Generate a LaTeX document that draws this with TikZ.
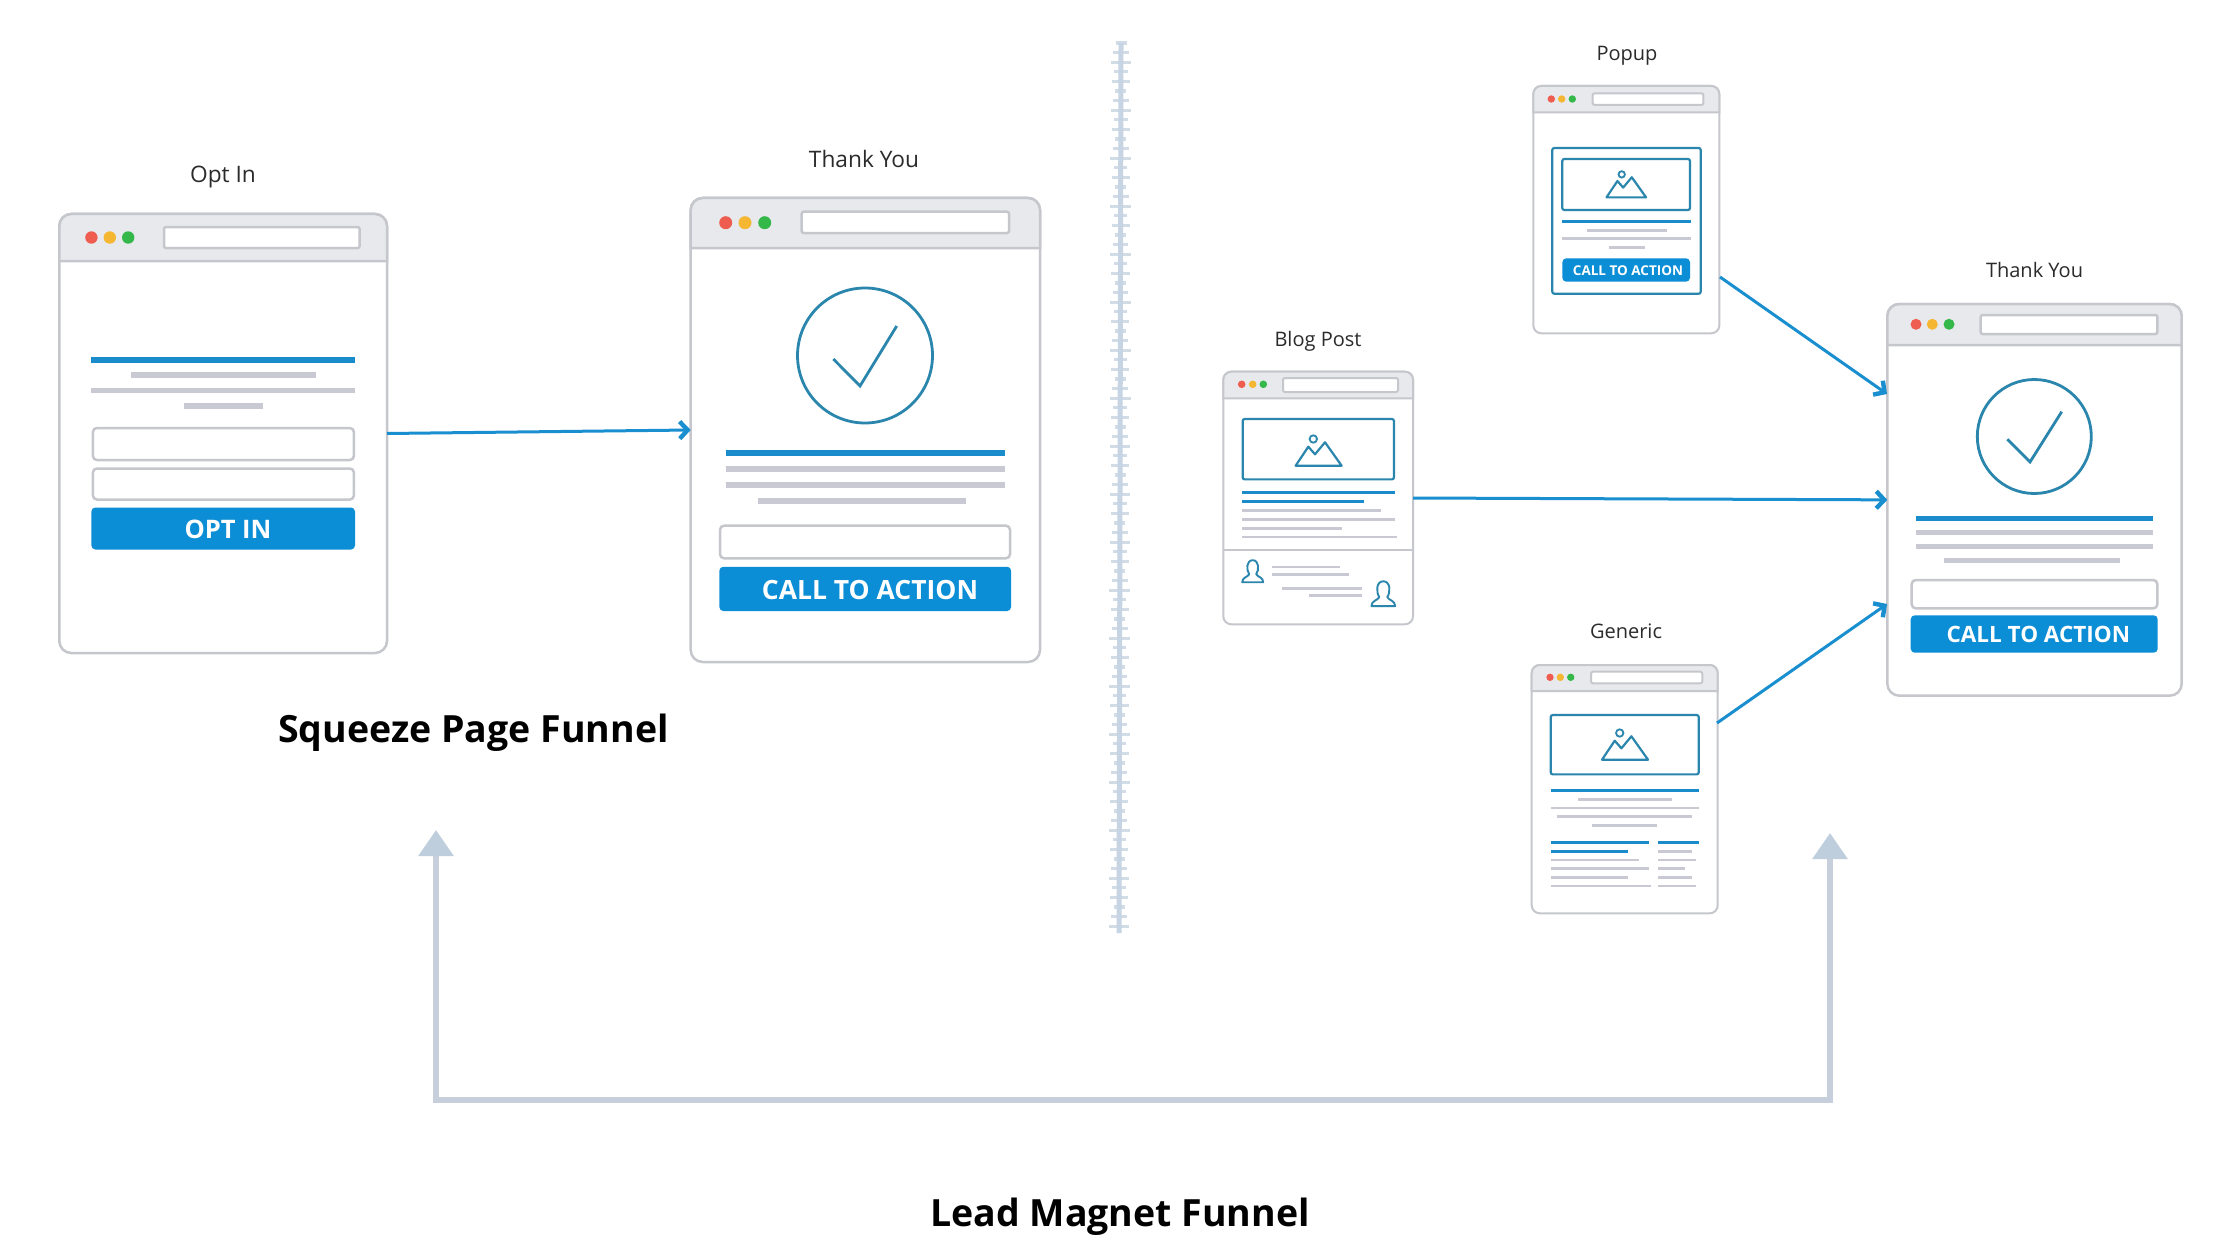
\documentclass[tikz,border=0pt]{standalone}
\usepackage{fontspec}
\setmainfont{Open Sans}
\usetikzlibrary{arrows.meta}
\definecolor{btn}{HTML}{0B8ED6}
\definecolor{bline}{HTML}{1A8CCB}
\definecolor{teal}{HTML}{2A86AD}
\definecolor{grayl}{HTML}{C9C9D3}
\definecolor{hdr}{HTML}{E7E9ED}
\definecolor{edge}{HTML}{C5C7CD}
\definecolor{dred}{HTML}{EE5D50}
\definecolor{dyel}{HTML}{F5B731}
\definecolor{dgrn}{HTML}{35B84A}
\definecolor{arrowb}{HTML}{1A8FD0}
\definecolor{shaft}{HTML}{C8CFDC}
\definecolor{headc}{HTML}{BFCEDD}
\definecolor{divc}{HTML}{C6D4E3}
\definecolor{divt}{HTML}{D2DCE7}
\definecolor{labelc}{HTML}{2B2B2B}
\def\wr{12}\def\wl{2.5}
\tikzset{
  winbox/.style={draw=edge,fill=white,line width=\wl pt,rounded corners=\wr pt,inner sep=0pt,outer sep=0pt},
  winhead/.style={draw=edge,fill=hdr,line width=\wl pt},
  urlb/.style={draw=edge,fill=white,line width=\wl pt,rounded corners=2pt},
  inputb/.style={draw=edge,fill=white,line width=2.5pt,rounded corners=4pt},
  btnb/.style={fill=btn,rounded corners=4pt},
  tealb/.style={draw=teal,line width=2.2pt,rounded corners=2pt},
  tealc/.style={draw=teal,line width=2.8pt},
  blueln/.style={draw=bline},
  grayln/.style={draw=grayl},
  flow/.style={draw=arrowb,line width=3pt,-{Straight Barb[length=8pt,width=17pt,line width=4.4pt]}},
  big/.style={draw=shaft,line width=6pt,{Triangle[length=26pt,width=34pt,fill=headc,color=headc]}-{Triangle[length=26pt,width=34pt,fill=headc,color=headc]}},
  lab/.style={text=labelc,font=\fontsize{22.7}{26}\selectfont,inner sep=0pt},
  head/.style={text=black,font=\fontsize{37.5}{44}\selectfont\bfseries,inner sep=0pt},
  btnt/.style={text=white,inner sep=0pt,font=\bfseries},
}
\newcommand{\winframe}[6]{%
  \node[winbox,minimum width={(#4-#2)*1pt},minimum height={(#5-#3)*1pt}] (#1) at ({(#2+#4)/2},{(#3+#5)/2}) {};
  \filldraw[winhead] (#2,#6) [rounded corners=\wr pt] -- (#2,#3) -- (#4,#3) [sharp corners] -- (#4,#6) -- cycle;
}
\newcommand{\tlights}[5]{%
  \fill[dred] (#1,#4) circle (#5);
  \fill[dyel] (#2,#4) circle (#5);
  \fill[dgrn] (#3,#4) circle (#5);
}
\newcommand{\rl}[5]{\draw[#1,line width=#5pt] (#2,#3) -- (#4,#3);}
\newcommand{\mountain}[3]{%
  \begin{scope}[shift={(#1,#2)},scale=#3]
    \draw[draw=teal,line width=2.2pt,line join=round] (-22.7,16.7) -- (-10,-2.3) -- (-3.3,5.3) -- (6.7,-6.7) -- (23.3,16.7) -- cycle;
    \draw[draw=teal,line width=1.8pt] (-5,-10) circle (3.7);
  \end{scope}
}
\newcommand{\avatar}[3]{%
  \begin{scope}[shift={(#1,#2)},scale=#3]
    \draw[draw=teal,line width=1.9pt,line join=round] (-10.5,11) .. controls (-10.5,6) and (-5,6) .. (-3.5,3) .. controls (-6.5,-1) and (-6.5,-11) .. (0,-11) .. controls (6.5,-11) and (6.5,-1) .. (3.5,3) .. controls (5,6) and (10.5,6) .. (10.5,11) -- cycle;
  \end{scope}
}
\begin{document}
\begin{tikzpicture}[x=1pt,y=-1pt]
\useasboundingbox (0,0) rectangle (2240,1260);
\fill[white] (0,0) rectangle (2240,1260);

% divider
\foreach \i in {0,...,92}{
  \pgfmathsetmacro{\yy}{43+\i*9.6}
  \pgfmathsetmacro{\xx}{1121-2*\i/92}
  \pgfmathsetmacro{\hw}{5.5+mod(\i*7,5)*1.2}
  \draw[divt,line width=3.2pt] ({\xx-\hw},\yy) -- ({\xx+\hw},\yy);
}
\draw[divc,line width=5pt] (1121,43) -- (1119,933);

% Opt In
\winframe{optin}{59.3}{214}{387}{653}{261}
\tlights{91.4}{109.8}{128.2}{237.5}{6.2}
\draw[urlb] (164,227) rectangle (359.6,248);
\rl{blueln}{91.4}{359.7}{355}{6}
\rl{grayln}{131.4}{375}{315.5}{5.5}
\rl{grayln}{91.4}{390.7}{355}{5.5}
\rl{grayln}{183.7}{406}{263}{5.5}
\node[inputb,minimum width=261pt,minimum height=32pt,inner sep=0pt] (optinf1) at (223.4,444) {};
\node[inputb,minimum width=261pt,minimum height=31pt,inner sep=0pt] (optinf2) at (223.4,484) {};
\node[btnb,minimum width=263.6pt,minimum height=42pt,inner sep=0pt] (optinb) at (223.2,528.5) {};
\node[btnt,font=\fontsize{25.5}{30}\selectfont\bfseries] (optint) at (228,529) {OPT IN};
\node[lab] (optinl) at (223,177) {Opt In};

% Thank You 1
\winframe{tya}{690.7}{198}{1040}{662}{248}
\tlights{725.7}{745}{764.7}{222.7}{6.5}
\draw[urlb] (801.7,211.7) rectangle (1009,233);
\node[tealc,circle,minimum size=135pt,inner sep=0pt] (tyac) at (865,355.5) {};
\draw[tealc,line join=miter] (833.3,359) -- (860,386) -- (896.7,326);
\rl{blueln}{725.7}{453}{1005}{6.5}
\rl{grayln}{725.7}{469}{1005}{6}
\rl{grayln}{725.7}{485}{1005}{6}
\rl{grayln}{758}{501}{965.7}{5.5}
\node[inputb,minimum width=290pt,minimum height=32.6pt,inner sep=0pt] (tyaf) at (865,542) {};
\node[btnb,minimum width=291.7pt,minimum height=44.3pt,inner sep=0pt] (tyab) at (865.2,588.9) {};
\node[btnt,font=\fontsize{26.5}{30}\selectfont\bfseries] (tyat) at (870,590) {CALL TO ACTION};
\node[lab] (tyal) at (864,158.6) {Thank You};

% Blog Post
\def\wr{8}\def\wl{2}
\winframe{blog}{1223.3}{371.7}{1413}{624.3}{398.3}
\tlights{1241.7}{1252.7}{1263.3}{384.3}{3.8}
\draw[urlb] (1283,378) rectangle (1398,392);
\node[tealb,minimum width=151.3pt,minimum height=60.3pt,inner sep=0pt] (blogi) at (1318.3,449.2) {};
\mountain{1318.3}{449}{1}
\rl{blueln}{1242.3}{492.7}{1395}{3}
\rl{blueln}{1242.3}{501.7}{1364}{3}
\rl{grayln}{1242.3}{510.3}{1380.7}{2.6}
\rl{grayln}{1242.3}{519.3}{1395}{2.6}
\rl{grayln}{1242.3}{528.3}{1341.7}{2.6}
\rl{grayln}{1242.3}{537}{1396.7}{2.6}
\draw[edge,line width=1.8pt] (blog.west |- 0,550.3) -- (blog.east |- 0,550.3);
\avatar{1252.7}{571.2}{1}
\avatar{1383.3}{593.7}{1.13}
\rl{grayln}{1272.3}{567}{1340}{2.6}
\rl{grayln}{1272.3}{574.3}{1349}{2.6}
\rl{grayln}{1281.7}{588.3}{1361.7}{2.6}
\rl{grayln}{1309.3}{595.3}{1361.7}{2.6}
\node[lab,font=\fontsize{20}{24}\selectfont] (blogl) at (1318,341) {Blog Post};

% Popup
\winframe{popup}{1533.3}{86}{1719.3}{333.3}{112.3}
\tlights{1551.3}{1561.7}{1572.3}{99}{3.7}
\draw[urlb] (1592.7,93.3) rectangle (1703.3,105);
\node[tealb,minimum width=148.4pt,minimum height=145.7pt,inner sep=0pt] (popupm) at (1626.5,220.85) {};
\node[tealb,minimum width=127.7pt,minimum height=51pt,inner sep=0pt] (popupi) at (1626.15,184.5) {};
\mountain{1626}{183}{.86}
\rl{blueln}{1562.3}{221.7}{1690.7}{3.2}
\rl{grayln}{1586.7}{230.3}{1666.7}{2.6}
\rl{grayln}{1562.3}{238.7}{1690.7}{2.6}
\rl{grayln}{1609}{247.3}{1645}{2.6}
\node[btnb,minimum width=127.7pt,minimum height=23.4pt,inner sep=0pt] (popupb) at (1626.15,270) {};
\node[btnt,font=\fontsize{13.5}{16}\selectfont\bfseries] (popupt) at (1628,270.5) {CALL TO ACTION};
\node[lab,font=\fontsize{20}{24}\selectfont] (popupl) at (1627,56) {Popup};

% Generic
\winframe{gener}{1531.7}{665}{1717.7}{913.3}{691}
\tlights{1550}{1560.3}{1570.7}{677.3}{3.7}
\draw[urlb] (1591,671.7) rectangle (1702.3,683.3);
\node[tealb,minimum width=148pt,minimum height=59.3pt,inner sep=0pt] (generi) at (1624.7,744.7) {};
\mountain{1624.7}{743}{1}
\rl{blueln}{1550.7}{790.7}{1698.7}{3}
\rl{grayln}{1578.3}{799.3}{1671.7}{2.6}
\rl{grayln}{1550.7}{808}{1698.7}{2.6}
\rl{grayln}{1557.3}{816.7}{1692}{2.6}
\rl{grayln}{1591.7}{825.3}{1657.3}{2.6}
\rl{blueln}{1550.7}{842.7}{1649.3}{3}
\rl{blueln}{1550.7}{851.3}{1628}{3}
\rl{grayln}{1550.7}{860}{1639.3}{2.6}
\rl{grayln}{1550.7}{868.7}{1649.3}{2.6}
\rl{grayln}{1550.7}{877.3}{1628}{2.6}
\rl{grayln}{1550.7}{886}{1650.7}{2.6}
\rl{blueln}{1658.3}{842.7}{1699}{3}
\rl{grayln}{1658.3}{851.3}{1691.7}{2.6}
\rl{grayln}{1658.3}{860}{1696}{2.6}
\rl{grayln}{1658.3}{868.7}{1685}{2.6}
\rl{grayln}{1658.3}{877.3}{1691.7}{2.6}
\rl{grayln}{1658.3}{886}{1696}{2.6}
\node[lab,font=\fontsize{20}{24}\selectfont] (generl) at (1626,631.5) {Generic};

% Thank You 2
\def\wr{12}\def\wl{2.5}
\winframe{tyb}{1887.3}{304}{2181.7}{695.7}{345}
\tlights{1916}{1932.3}{1949}{324.3}{5.5}
\draw[urlb] (1980.7,315) rectangle (2157.3,334);
\node[tealc,circle,minimum size=114pt,inner sep=0pt] (tybc) at (2034.3,436.5) {};
\draw[tealc,line join=miter] (2007.3,439.3) -- (2030,462) -- (2061.7,411.7);
\rl{blueln}{1916}{518.7}{2152.7}{5.5}
\rl{grayln}{1916}{532.7}{2152.7}{5}
\rl{grayln}{1916}{546}{2152.7}{5}
\rl{grayln}{1944}{560}{2120}{5}
\node[inputb,minimum width=245.6pt,minimum height=28.3pt,inner sep=0pt] (tybf) at (2034.5,594.2) {};
\node[btnb,minimum width=247pt,minimum height=37.4pt,inner sep=0pt] (tybb) at (2034.2,634) {};
\node[btnt,font=\fontsize{22.5}{26}\selectfont\bfseries] (tybt) at (2038.3,634.3) {CALL TO ACTION};
\node[lab,font=\fontsize{20}{24}\selectfont] (tybl) at (2034.5,270) {Thank You};

% connectors
\coordinate (pa) at (1720,277);
\coordinate (pb) at (1887,394);
\coordinate (ga) at (1717,723);
\coordinate (gb) at (1887,604);
\draw[flow] (optin.east) -- (tya.west);
\draw[flow] (blog.east) -- (tyb.west);
\draw[flow] (pa) -- (pb);
\draw[flow] (ga) -- (gb);

\coordinate (lma) at (436,830);
\coordinate (lmb) at (436,1100);
\coordinate (lmc) at (1830,1100);
\coordinate (lmd) at (1830,833);
\draw[big,line join=miter] (lma) -- (lmb) -- (lmc) -- (lmd);

\node[head] (squeeze) at (473.5,732.5) {Squeeze Page Funnel};
\node[head] (leadm) at (1120,1217) {Lead Magnet Funnel};
\end{tikzpicture}
\end{document}
